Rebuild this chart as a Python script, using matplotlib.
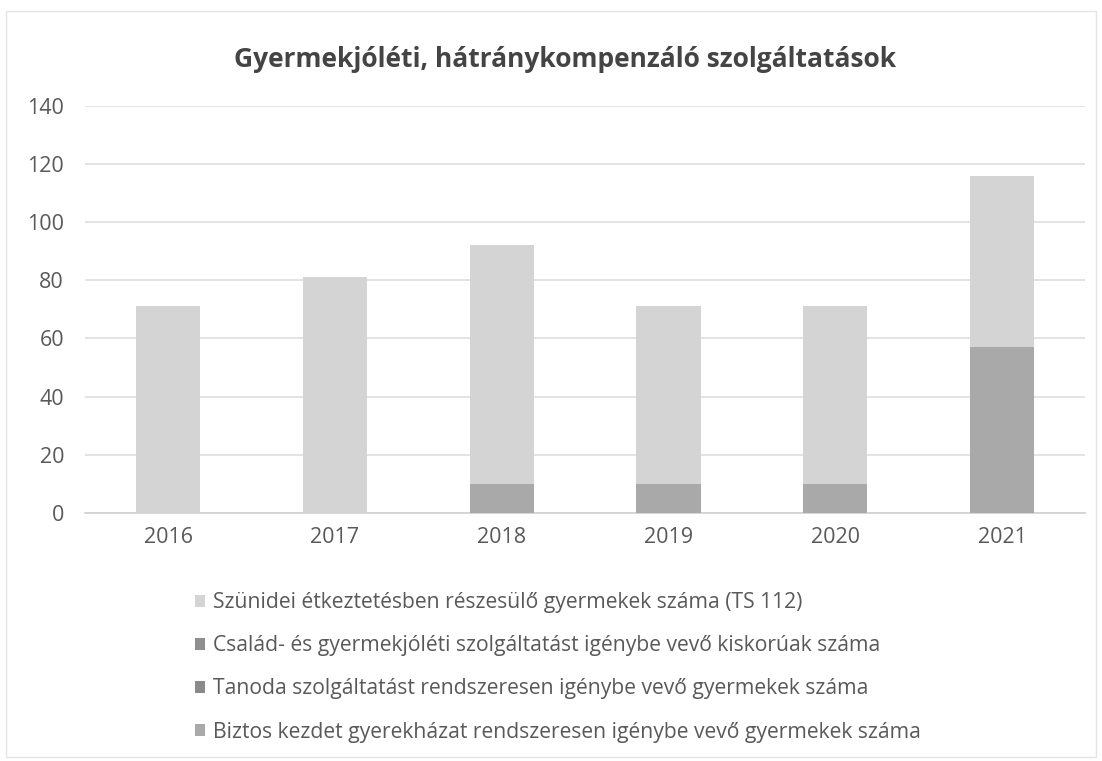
import numpy as np
import matplotlib.pyplot as plt
from matplotlib.patches import Rectangle

years = ["2016", "2017", "2018", "2019", "2020", "2021"]
series_names = [
    "Szünidei étkeztetésben részesülő gyermekek száma (TS 112)",
    "Család- és gyermekjóléti szolgáltatást igénybe vevő kiskorúak száma",
    "Tanoda szolgáltatást rendszeresen igénybe vevő gyermekek száma",
    "Biztos kezdet gyerekházat rendszeresen igénybe vevő gyermekek száma",
]
szunidei = [71, 81, 82, 61, 61, 59]
csalad = [0, 0, 0, 0, 0, 0]
tanoda = [0, 0, 0, 0, 0, 0]
biztos = [0, 0, 10, 10, 10, 57]
colors = ["#d4d4d4", "#8f8f8f", "#8a8a8a", "#a9a9a9"]

plt.rcParams['font.family'] = ['Open Sans', 'DejaVu Sans']

fig = plt.figure(figsize=(11.02, 7.61), dpi=100)
ax = fig.add_axes([0.077, 0.326, 0.908, 0.535])

x = np.arange(len(years))
w = 0.385
# stack from bottom: biztos, tanoda, csalad, szunidei
stack = [(biztos, 3), (tanoda, 2), (csalad, 1), (szunidei, 0)]
bottom = np.zeros(len(years))
handles = {}
for vals, i in stack:
    b = ax.bar(x, vals, w, bottom=bottom, color=colors[i], zorder=3)
    handles[i] = b
    bottom += np.array(vals)

ax.set_xlim(-0.5, 5.5)
ax.set_ylim(0, 140)
ax.set_yticks(range(0, 141, 20))
ax.set_xticks(x)
ax.set_xticklabels(years)
ax.yaxis.grid(True, color="#dedede", linewidth=1.2, zorder=0)
for s in ["top", "right", "left"]:
    ax.spines[s].set_visible(False)
ax.spines["bottom"].set_color("#d0d0d0")
ax.spines["bottom"].set_linewidth(1.2)
ax.tick_params(axis="both", length=0, labelsize=15.5, labelcolor="#595959")
ax.tick_params(axis="x", pad=10)
ax.tick_params(axis="y", pad=15)

fig.text(0.513, 0.922, "Gyermekjóléti, hátránykompenzáló szolgáltatások",
         ha="center", va="center", fontsize=19, fontweight="bold", color="#444444")

leg = fig.legend([handles[i] for i in range(4)], series_names,
                 loc="upper left", bbox_to_anchor=(0.169, 0.233), ncol=1,
                 frameon=False, fontsize=15.2, labelspacing=1.05,
                 handlelength=0.5, handleheight=0.5, handletextpad=0.35,
                 borderaxespad=0)
for t in leg.get_texts():
    t.set_color("#595959")

fig.patches.append(Rectangle((0.005, 0.005), 0.99, 0.98, transform=fig.transFigure,
                             fill=False, edgecolor="#e4e4e4", linewidth=1))

fig.savefig("out.png", dpi=100)
